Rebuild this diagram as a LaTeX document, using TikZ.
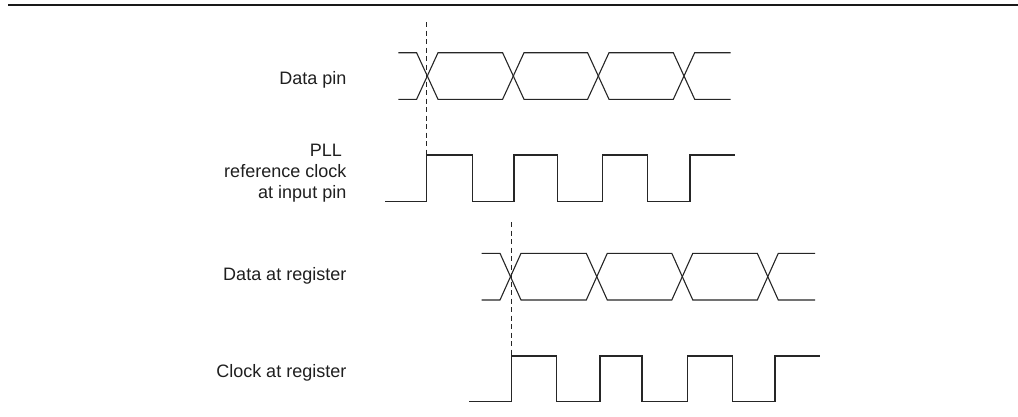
\documentclass[tikz,border=0pt]{standalone}
\usepackage{fontspec}
\setmainfont{Liberation Sans}
\begin{document}
\begin{tikzpicture}[x=1pt,y=-1pt,
  lbl/.style={anchor=base east,inner sep=0pt,font=\fontsize{18}{21}\selectfont,text=black!88},
  wave/.style={line width=1.1pt,draw=black!85,line join=miter},
  guide/.style={line width=1pt,draw=black!85,dash pattern=on 5pt off 3.5pt}]
\useasboundingbox (0,0) rectangle (1018,416);
% top rule
\draw[line width=2pt,draw=black!90] (8,5) -- (1018,5);
% labels
\node[lbl] (ldp) at (346.5,84) {Data pin};
\node[lbl] (lpll) at (342,156.7) {PLL};
\node[lbl] (lref) at (346.5,177) {reference clock};
\node[lbl] (lin) at (346.5,198.3) {at input pin};
\node[lbl] (ldr) at (346.5,280) {Data at register};
\node[lbl] (lcr) at (346.5,377.3) {Clock at register};
% data pin eye
\def\h{10.7}
\draw[wave] (398.3,52.7) -- (427.3-\h,52.7) -- (427.3+\h,99.3) -- (513.3-\h,99.3) -- (513.3+\h,52.7) -- (598.3-\h,52.7) -- (598.3+\h,99.3) -- (684-\h,99.3) -- (684+\h,52.7) -- (730.7,52.7);
\draw[wave] (398.3,99.3) -- (427.3-\h,99.3) -- (427.3+\h,52.7) -- (513.3-\h,52.7) -- (513.3+\h,99.3) -- (598.3-\h,99.3) -- (598.3+\h,52.7) -- (684-\h,52.7) -- (684+\h,99.3) -- (730.7,99.3);
% PLL reference clock
\draw[wave] (385,201.7) -- (426.7,201.7) -- (426.7,155) -- (472.3,155) -- (472.3,201.7) -- (514,201.7) -- (514,155) -- (557.3,155) -- (557.3,201.7) -- (602.3,201.7) -- (602.3,155) -- (647.7,155) -- (647.7,201.7) -- (690,201.7) -- (690,155) -- (735,155);
% data at register eye
\def\g{10.5}
\draw[wave] (481.7,253.3) -- (510.5-\g,253.3) -- (510.5+\g,300) -- (596.8-\g,300) -- (596.8+\g,253.3) -- (682.3-\g,253.3) -- (682.3+\g,300) -- (767.8-\g,300) -- (767.8+\g,253.3) -- (815,253.3);
\draw[wave] (481.7,300) -- (510.5-\g,300) -- (510.5+\g,253.3) -- (596.8-\g,253.3) -- (596.8+\g,300) -- (682.3-\g,300) -- (682.3+\g,253.3) -- (767.8-\g,253.3) -- (767.8+\g,300) -- (815,300);
% clock at register
\draw[wave] (469.3,401.7) -- (511.7,401.7) -- (511.7,356) -- (556.7,356) -- (556.7,401.7) -- (600,401.7) -- (600,356) -- (642,356) -- (642,401.7) -- (687.3,401.7) -- (687.3,356) -- (732.7,356) -- (732.7,401.7) -- (775,401.7) -- (775,356) -- (820,356);
% guides
\draw[guide] (426.7,22) -- (426.7,155);
\draw[guide] (511.2,222) -- (511.2,356);
\end{tikzpicture}
\end{document}
